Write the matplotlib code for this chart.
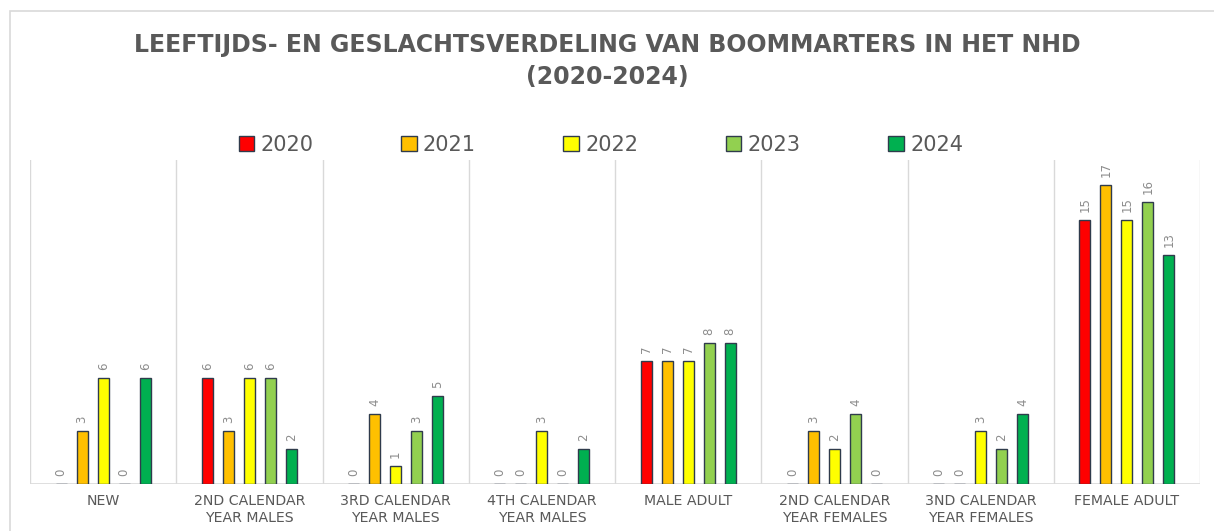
import matplotlib
matplotlib.use("Agg")
import matplotlib.pyplot as plt
from matplotlib.patches import Rectangle, Patch
import numpy as np

categories = ["NEW", "2ND CALENDAR\nYEAR MALES", "3RD CALENDAR\nYEAR MALES",
              "4TH CALENDAR\nYEAR MALES", "MALE ADULT", "2ND CALENDAR\nYEAR FEMALES",
              "3ND CALENDAR\nYEAR FEMALES", "FEMALE ADULT"]
years = ["2020", "2021", "2022", "2023", "2024"]
v2020 = [0, 6, 0, 0, 7, 0, 0, 15]
v2021 = [3, 3, 4, 0, 7, 3, 0, 17]
v2022 = [6, 6, 1, 3, 7, 2, 3, 15]
v2023 = [0, 6, 3, 0, 8, 4, 2, 16]
v2024 = [6, 2, 5, 2, 8, 0, 4, 13]
series = [v2020, v2021, v2022, v2023, v2024]
colors = ["#FF0000", "#FFC000", "#FFFF00", "#92D050", "#00B050"]

W, H = 1214, 531
fig = plt.figure(figsize=(W/100, H/100), dpi=100)
fig.patches.append(Rectangle((10/W, -0.1), 1.2, (H-11)/H + 0.1, transform=fig.transFigure,
                             fill=False, edgecolor="#D9D9D9", linewidth=1.2))

ax = fig.add_axes([30/W, 1-484/H, 1170/W, (484-160)/H])
n = len(categories)
x = np.arange(n)
step = 21/146
bw = 11/146
edge = "#2F3B4C"
lab_color = "#8C8C8C"
for i, (vals, c) in enumerate(zip(series, colors)):
    pos = x + (i-2)*step
    ax.bar(pos, vals, width=bw, color=c, edgecolor=edge, linewidth=1.0, zorder=3)
    for p, v in zip(pos, vals):
        ax.text(p, v + 0.45, str(v), rotation=90, ha="center", va="bottom",
                fontsize=8.5, color=lab_color)

ax.set_xlim(-0.5, n-0.5)
ax.set_ylim(0, 18.4)
for b in np.arange(-0.5, n, 1.0):
    ax.axvline(b, color="#D9D9D9", linewidth=1.0, zorder=1)
for s in ax.spines.values():
    s.set_visible(False)
ax.axhline(0, color="#D9D9D9", linewidth=1.2, zorder=2)
ax.set_yticks([])
ax.set_xticks(x)
ax.set_xticklabels(categories, fontsize=10.2, color="#595959", linespacing=1.3)
ax.tick_params(axis="x", length=0, pad=7)

fig.text(0.5, 1-45/H, "LEEFTIJDS- EN GESLACHTSVERDELING VAN BOOMMARTERS IN HET NHD",
         ha="center", va="center", fontsize=17, fontweight="bold", color="#595959")
fig.text(0.5, 1-77/H, "(2020-2024)", ha="center", va="center", fontsize=17,
         fontweight="bold", color="#595959")

handles = [Patch(facecolor=c, edgecolor=edge, linewidth=1.0) for c in colors]
fig.legend(handles, years, loc="center", bbox_to_anchor=(0.495, 1-145/H), ncol=5,
           frameon=False, fontsize=15, labelcolor="#595959", handlelength=0.75,
           handleheight=0.75, handletextpad=0.3, columnspacing=4.2)

fig.savefig("out.png", dpi=100, facecolor="white")
